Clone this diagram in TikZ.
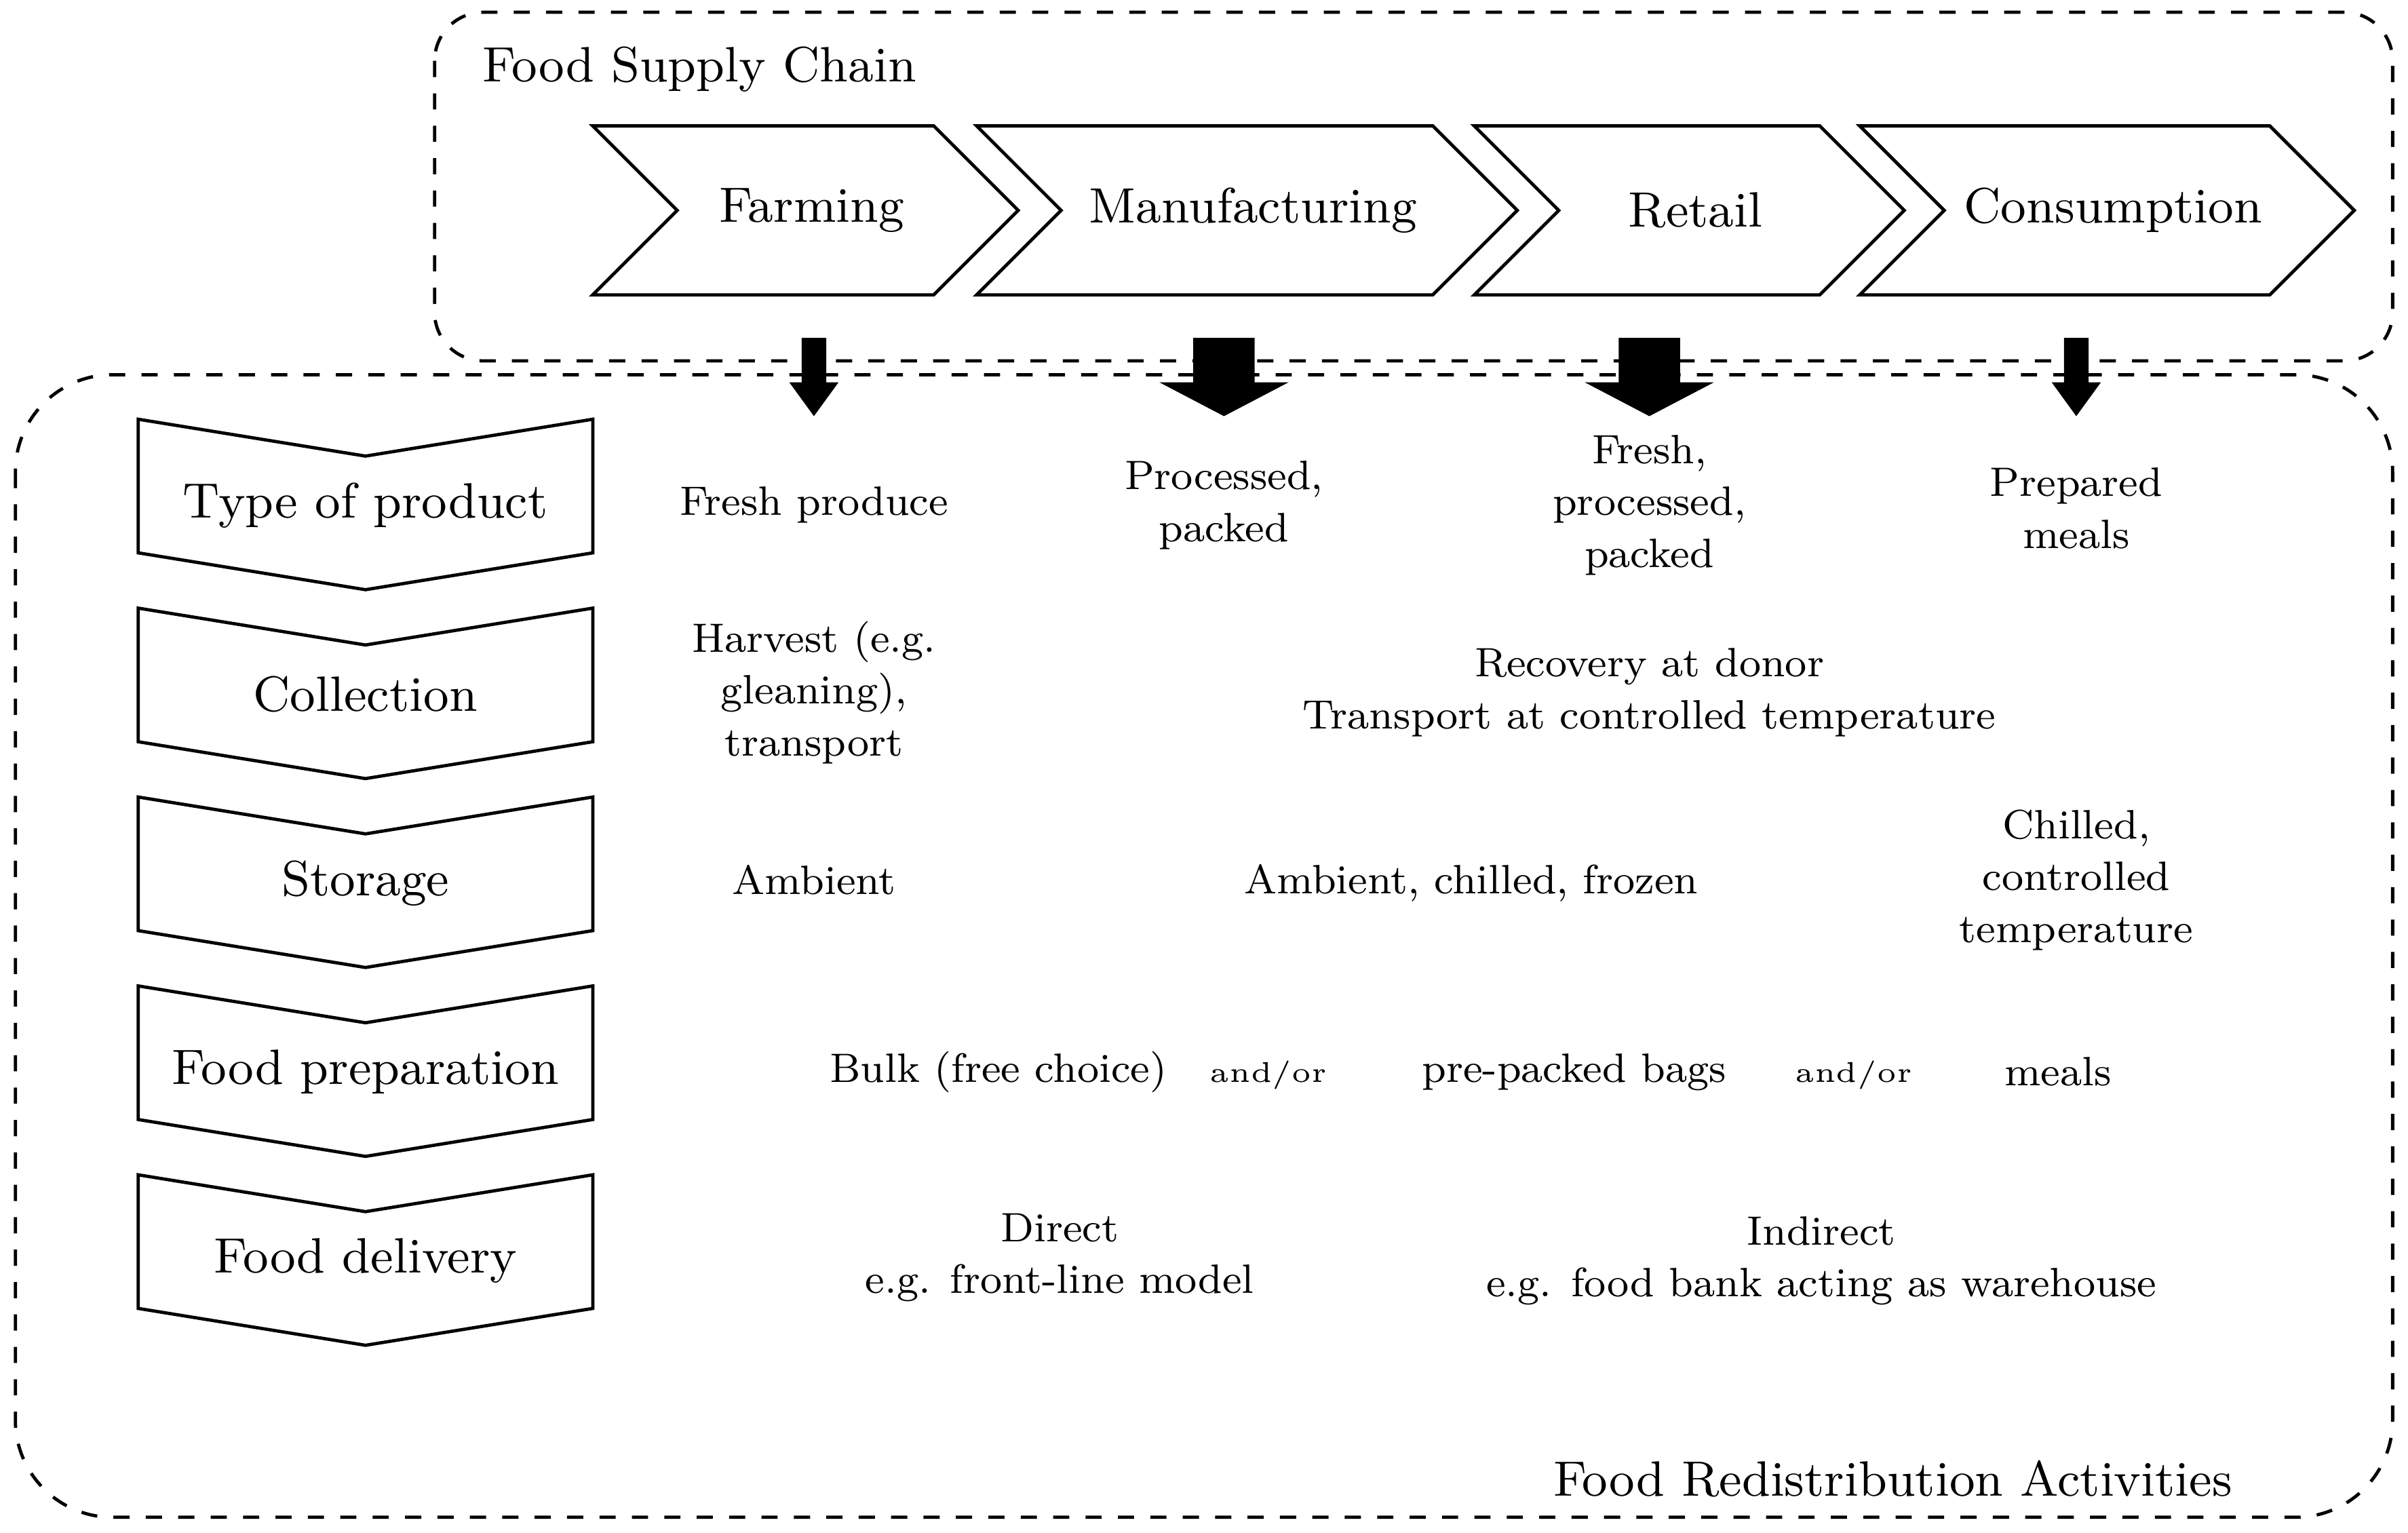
\documentclass[tikz,border=0pt]{standalone}
\usetikzlibrary{positioning}
\begin{document}
\begin{tikzpicture}[x=0.01cm,y=-0.01cm,
  box/.style={draw,dashed,semithick},
  chev/.style={draw,semithick,fill=white},
  big/.style={font=\fontsize{9.2}{11}\selectfont},
  txt/.style={font=\fontsize{7.6}{9.6}\selectfont,align=center},
  small/.style={font=\fontsize{5.3}{6}\selectfont},
  down/.style={fill=black}]
\useasboundingbox (0,0) rectangle (1568,998);
% frames
\draw[box,rounded corners=9pt] (283,8) rectangle (1558,235);
\draw[box,rounded corners=18pt] (10,244) rectangle (1558,988);
\node[big,anchor=west] (fsc) at (302,45) {Food Supply Chain};
\node[big,anchor=east] (fra) at (1466,963) {Food Redistribution Activities};
% supply chain chevrons
\foreach \a/\b/\n/\lab in {386/663/farm/Farming,636/988/manu/Manufacturing,960/1240/reta/Retail,1211/1533/cons/Consumption}{
  \draw[chev] (\a,82) -- (\b-55,82) -- (\b,137) -- (\b-55,192) -- (\a,192) -- (\a+55,137) -- cycle;
  \node[big] (\n) at ({(\a+\b)/2+4},137) {\lab};
}
% arrows down
\foreach \x/\w/\h in {530/8/16,1352/8/16,797/20/42,1074/20/42}
  \fill[down] (\x-\w,220) -- (\x+\w,220) -- (\x+\w,249) -- (\x+\h,249) -- (\x,271) -- (\x-\h,249) -- (\x-\w,249) -- cycle;
% activity chevrons
\foreach \i/\n/\lab in {0/type/Type of product,1/coll/Collection,2/stor/Storage,3/prep/Food preparation,4/deli/Food delivery}{
  \draw[chev] (90,273+123*\i) -- (238,297+123*\i) -- (386,273+123*\i) -- (386,360+123*\i) -- (238,384+123*\i) -- (90,360+123*\i) -- cycle;
  \node[big] (\n) at (238,329+123*\i) {\lab};
}
% row texts
\node[txt] (t1) at (530,329) {Fresh produce};
\node[txt] (t2) at (797,329) {Processed,\\packed};
\node[txt] (t3) at (1074,329) {Fresh,\\processed,\\packed};
\node[txt] (t4) at (1352,331) {Prepared\\meals};
\node[txt] (c1) at (530,451) {Harvest (e.g.\\gleaning),\\transport};
\node[txt] (c2) at (1074,451) {Recovery at donor\\Transport at controlled temperature};
\node[txt] (s1) at (530,573) {Ambient};
\node[txt] (s2) at (958,575) {Ambient, chilled, frozen};
\node[txt] (s3) at (1352,573) {Chilled,\\controlled\\temperature};
\node[txt] (p1) at (650,698) {Bulk (free choice)};
\node[small] (a1) at (826,700) {and/or};
\node[txt] (p2) at (1025,698) {pre-packed bags};
\node[small] (a2) at (1207,700) {and/or};
\node[txt] (p3) at (1340,698) {meals};
\node[txt] (d1) at (690,819) {Direct\\e.g. front-line model};
\node[txt] (d2) at (1186,821) {Indirect\\e.g. food bank acting as warehouse};
\end{tikzpicture}
\end{document}
